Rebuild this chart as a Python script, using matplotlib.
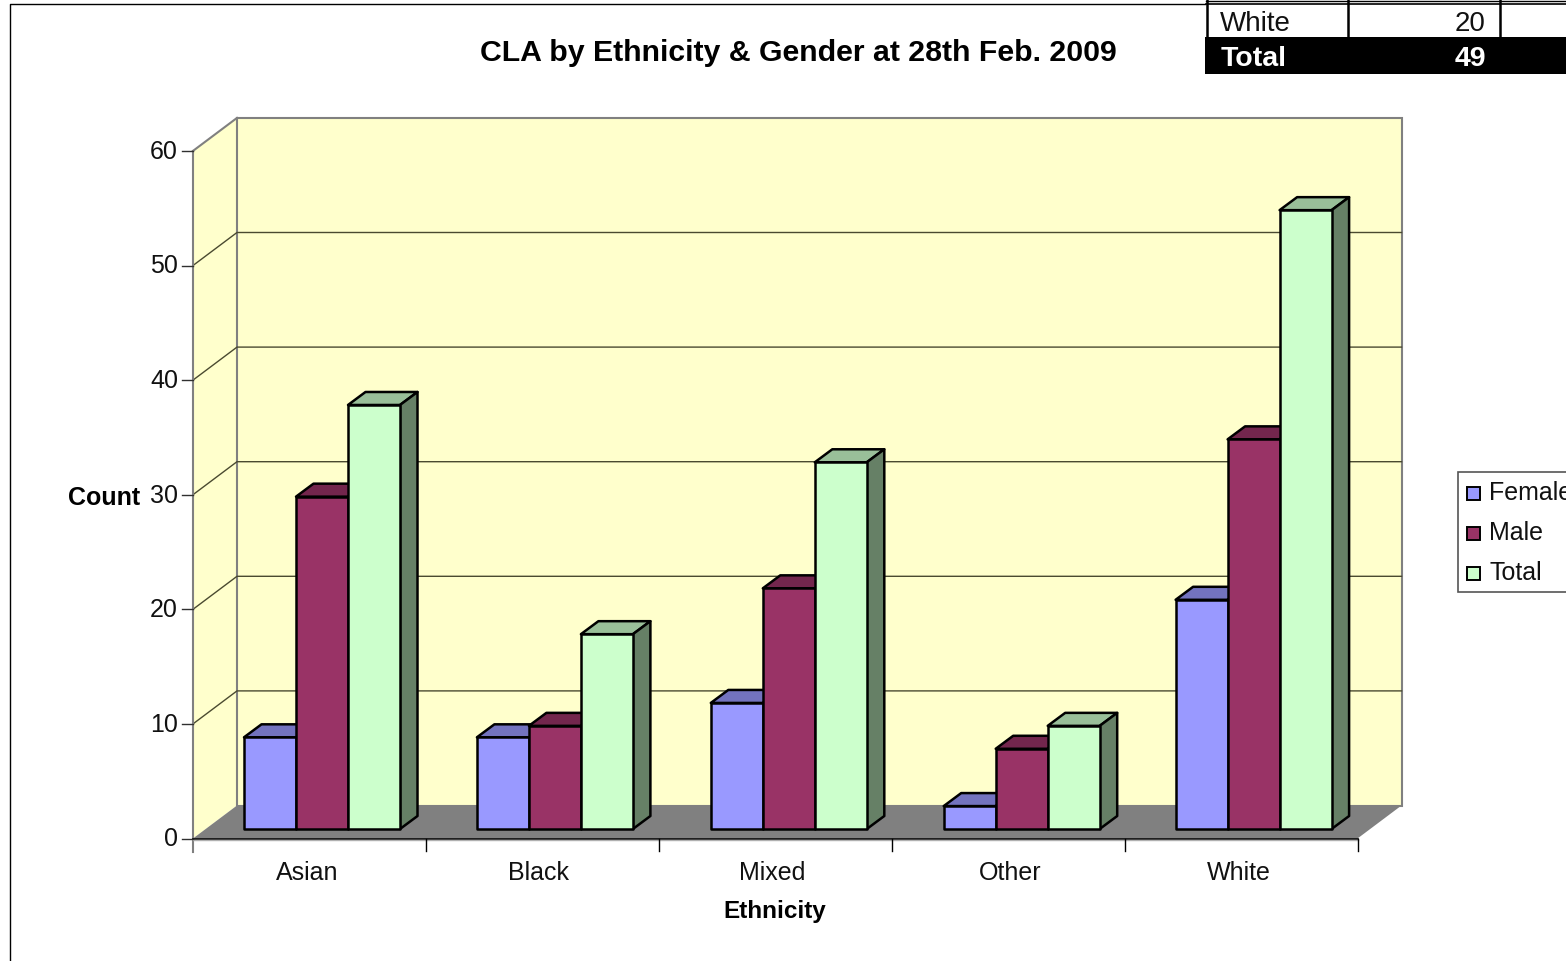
import matplotlib
matplotlib.use("Agg")
from matplotlib import pyplot as plt
from matplotlib.patches import Polygon, Rectangle
from matplotlib.transforms import Affine2D

plt.rcParams['font.family'] = ['Liberation Sans', 'DejaVu Sans']

categories = ["Asian", "Black", "Mixed", "Other", "White"]
female = [8, 8, 11, 2, 20]
male = [29, 9, 21, 7, 34]
total = [37, 17, 32, 9, 54]
series_names = ["Female", "Male", "Total"]
y_ticks = [0, 10, 20, 30, 40, 50, 60]
table_row = ["White", "20"]
table_total = ["Total", "49"]

W, H = 1566, 962
fig = plt.figure(figsize=(W / 100, H / 100), dpi=100)
ax = fig.add_axes([0, 0, 1, 1])

# scale: 233 px per category, 11.46 px per count, origin at (193, 839.5)
PX_X = 232.9
PX_Y = 11.46
ax.set_xlim(-193 / PX_X, (W - 193) / PX_X)
ax.set_ylim((839.5 - H) / PX_Y, 839.5 / PX_Y)
ax.axis("off")

# picture coords for the things outside the plot
px = Affine2D().scale(1 / W, -1 / H).translate(0, 1 - 1 / H) + fig.transFigure

# depth of the 3d box and of the bars, in data units
WALL_DX = 44 / PX_X
WALL_DY = 33 / PX_Y
BAR_DX = 17.5 / PX_X
BAR_DY = 13 / PX_Y
BAR_LIFT = 9.5 / PX_Y
BAR_W = 52 / PX_X
GROUP_OFF = [51 / PX_X, 51 / PX_X, 52 / PX_X, 52 / PX_X, 51 / PX_X]
YMAX = y_ticks[-1]
XMAX = len(categories)

WALL = "#ffffcc"
GREY = "#808080"
front_cols = ["#9999ff", "#993366", "#ccffcc"]
top_cols = ["#7373bf", "#73264d", "#99bf99"]
side_cols = ["#5c5c99", "#5c1f3d", "#668066"]

# walls and floor
ax.add_patch(Polygon([(0, 0), (WALL_DX, WALL_DY), (WALL_DX, YMAX + WALL_DY), (0, YMAX)],
                     fc=WALL, ec="none", zorder=1))
ax.add_patch(Polygon([(WALL_DX, WALL_DY), (XMAX + WALL_DX, WALL_DY),
                      (XMAX + WALL_DX, YMAX + WALL_DY), (WALL_DX, YMAX + WALL_DY)],
                     fc=WALL, ec=GREY, lw=1.5, zorder=1))
ax.add_patch(Polygon([(0, 0), (WALL_DX, WALL_DY), (XMAX + WALL_DX, WALL_DY), (XMAX, 0)],
                     fc=GREY, ec="none", zorder=2))

for t in y_ticks[1:-1]:
    ax.plot([0, WALL_DX, XMAX + WALL_DX], [t, t + WALL_DY, t + WALL_DY],
            color="#4a4a30", lw=1, zorder=2)
ax.plot([0, WALL_DX], [YMAX, YMAX + WALL_DY], color=GREY, lw=1.5, zorder=2)

# bars, left to right so each one covers the side of the previous
z = 3
for i in range(len(categories)):
    vals = [female[i], male[i], total[i]]
    x0 = i + GROUP_OFF[i]
    for j, v in enumerate(vals):
        l = x0 + j * BAR_W
        r = l + BAR_W
        b = BAR_LIFT
        t = v + BAR_LIFT
        ax.add_patch(Polygon([(l, t), (l + BAR_DX, t + BAR_DY), (r + BAR_DX, t + BAR_DY), (r, t)],
                             fc=top_cols[j], ec="black", lw=1.8, joinstyle="round", zorder=z))
        ax.add_patch(Polygon([(r, b), (r + BAR_DX, b + BAR_DY), (r + BAR_DX, t + BAR_DY), (r, t)],
                             fc=side_cols[j], ec="black", lw=1.8, joinstyle="round", zorder=z))
        ax.add_patch(Polygon([(l, b), (r, b), (r, t), (l, t)],
                             fc=front_cols[j], ec="black", lw=1.8, joinstyle="round", zorder=z + 0.5))
        z += 1

# axes lines and ticks
ax.plot([0, 0], [-13 / PX_Y, YMAX], color=GREY, lw=1.5, zorder=50)
ax.plot([0, XMAX], [0, 0], color="black", lw=1.2, zorder=50)
ax.plot([0, XMAX], [-1.5 / PX_Y, -1.5 / PX_Y], color="#b0b0b0", lw=1, zorder=50)
for t in y_ticks:
    ax.plot([-11 / PX_X, 0], [t, t], color="#303030", lw=1, zorder=50)
    ax.text(-15 / PX_X, t, str(t), ha="right", va="center", fontsize=18, color="#111111")
for i in range(1, XMAX + 1):
    ax.plot([i, i], [-12 / PX_Y, 0], color="black", lw=1, zorder=50)
label_x = [307, 539, 772, 1010, 1239]
for name, lx in zip(categories, label_x):
    ax.text(lx, 872, name, transform=px, ha="center", va="center", fontsize=18, color="#111111")

ax.text(104, 497, "Count", transform=px, ha="center", va="center", fontsize=18, fontweight="bold")
ax.text(775, 911, "Ethnicity", transform=px, ha="center", va="center", fontsize=17.5, fontweight="bold")
ax.text(798, 52, "CLA by Ethnicity & Gender at 28th Feb. 2009", transform=px, ha="center",
        va="center", fontsize=21.8, fontweight="bold")

# outer frame of the sheet
ax.plot([10, 10, W], [H, 4, 4], transform=px, color="black", lw=1, zorder=60)

# legend, runs off the right edge like the original
ax.add_patch(Rectangle((1458, 472), 130, 120, transform=px, fc="white", ec="#555555", lw=1.2, zorder=60))
for name, col, ly in zip(series_names, front_cols, [492, 532, 572]):
    ax.add_patch(Rectangle((1467, ly - 5), 13, 13, transform=px, fc=col, ec="black", lw=1.4, zorder=61))
    ax.text(1489, ly, name, transform=px, ha="left", va="center", fontsize=18, color="#111111", zorder=61)

# piece of a table pasted over the chart corner
ax.add_patch(Rectangle((1206, 0), W - 1206, 38, transform=px, fc="white", ec="none", zorder=70))
ax.plot([1206, W], [1, 1], transform=px, color="black", lw=1, zorder=71)
ax.plot([1206, W], [4, 4], transform=px, color="black", lw=1.2, zorder=71)
for vx in [1207, 1348, 1500]:
    ax.plot([vx, vx], [0, 38], transform=px, color="black", lw=1.8, zorder=71)
ax.add_patch(Rectangle((1205, 37), W - 1205, 37, transform=px, fc="black", ec="none", zorder=71))
ax.text(1220, 23, table_row[0], transform=px, ha="left", va="center", fontsize=20, color="#111111", zorder=72)
ax.text(1486, 23, table_row[1], transform=px, ha="right", va="center", fontsize=20, color="#111111", zorder=72)
ax.text(1221, 58, table_total[0], transform=px, ha="left", va="center", fontsize=20.5, fontweight="bold", color="white", zorder=72)
ax.text(1486, 58, table_total[1], transform=px, ha="right", va="center", fontsize=20.5, fontweight="bold", color="white", zorder=72)

plt.savefig("out.png", dpi=100)
